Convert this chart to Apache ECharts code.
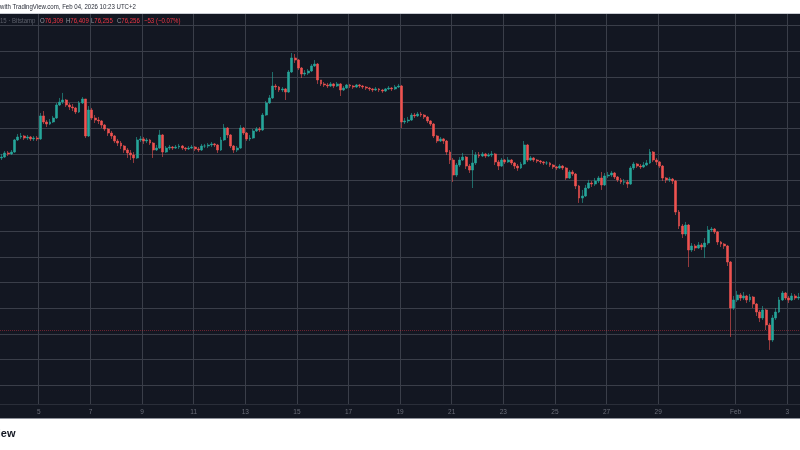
<!DOCTYPE html>
<html><head><meta charset="utf-8">
<script src="https://cdn.jsdelivr.net/npm/echarts@6/dist/echarts.min.js"></script>
<style>
html,body{margin:0;padding:0;background:#fff;width:800px;height:450px;overflow:hidden;}
#panel{position:absolute;left:0;top:13px;width:800px;height:406px;background:#131722;border-top:1px solid #c9ccd3;border-bottom:1px solid #8f929b;box-sizing:border-box;}
#chart{position:absolute;left:0;top:0;width:800px;height:450px;}
</style></head><body>
<div id="panel"></div><div id="chart"></div>
<script>
// BTC/USD 3h candles, starting 2026-01-03 12:00
const firstOpen = 89700;
const close = [
89770,90090,90010,90160,91100,91330,91410,91250,
91330,91180,91250,91180,92970,92500,92340,92500,
92810,93820,94050,94210,93820,93670,93590,93280,
93980,94290,91410,93430,92810,92650,92580,92260,
91950,91640,91410,91020,90860,90630,90320,90090,
89930,89700,91100,91180,91020,91100,90860,90320,
90470,91490,90160,90470,90550,90470,90550,90630,
90470,90400,90470,90550,90400,90320,90630,90630,
90710,90790,90710,90320,91100,92030,91490,90630,
90320,90470,92030,91640,91180,91250,91800,91950,
91880,93040,93980,94370,95300,95220,94990,95070,
94830,96390,97480,97320,96700,96230,96310,96470,
96860,97010,95770,95460,95380,95300,95460,95300,
95460,94990,95140,95380,95300,95220,95380,95300,
95220,95140,95070,94990,95070,94990,94910,95070,
95140,95070,95220,95300,92500,92580,92650,93040,
92970,93120,93040,92890,92580,92340,91410,91020,
91180,91020,90160,89540,88370,89150,89540,89770,
89070,88760,89310,89930,89850,90010,89850,89930,
90010,89390,89070,89540,89390,89540,89310,89070,
88920,89230,90710,89540,89700,89540,89460,89390,
89310,89310,89150,89000,88920,89070,88920,88140,
88610,88450,87520,86580,86740,87360,87750,87670,
87910,88140,87600,88300,88370,88530,88220,87990,
87830,87830,87670,88920,89230,89070,89000,89150,
89310,90160,89540,89390,89070,88140,87990,88060,
87910,85490,84400,83780,84480,82540,82850,82690,
82930,82770,83080,84090,84170,83940,83160,83000,
82850,81600,78020,78650,79040,78800,78960,78650,
78880,78330,77710,77250,77870,76700,75530,77250,
77710,78650,79190,78800,78650,78960,78800,78880
];
const high = [
90010,90240,90240,90320,91180,91560,91640,91490,
91490,91410,91410,91410,93200,93350,92650,92730,
92970,93980,94370,94760,94290,93980,93900,93670,
94130,94440,94290,93740,93590,93040,92890,92650,
92340,92030,91800,91490,91180,91020,90710,90470,
90320,90160,91330,91410,91330,91250,91180,90940,
90710,91880,91560,90630,90710,90630,90710,90790,
90710,90550,90630,90710,90630,90550,90790,90790,
90860,90940,90860,90790,91330,92340,92110,91560,
90710,90630,92260,92110,91720,91490,91950,92110,
92110,93200,94130,94600,96390,95460,95300,95220,
95140,96540,97870,97790,97400,96780,96540,96620,
97010,97320,97090,95770,95610,95530,95610,95530,
95610,95530,95300,95460,95460,95380,95460,95460,
95380,95300,95220,95140,95220,95140,95070,95140,
95300,95220,95380,95460,95380,92810,92890,93200,
93200,93280,93280,93120,92970,92650,92420,91490,
91330,91250,91100,90320,89700,89310,89770,90090,
89850,89230,90320,90160,90160,90160,90090,90090,
90240,90090,89540,89700,89620,89770,89620,89390,
89230,89390,91020,90790,89850,89770,89620,89540,
89460,89460,89390,89230,89070,89230,89150,89000,
88760,88760,88530,87600,87210,87600,87990,87910,
88140,88300,88610,88530,88610,88690,88610,88300,
88140,88060,87990,89070,89390,89310,89230,89390,
89540,90400,90240,89700,89460,89150,88220,88220,
88140,87990,85650,84560,84720,84560,83080,83000,
83160,83080,83470,84400,84330,84250,84020,83240,
83080,82930,81680,78960,79350,79190,79270,79040,
79110,78960,78410,77870,78180,77950,76860,77480,
78020,78880,79350,79270,78960,79190,79110,79190
];
const low = [
89540,89700,89850,89930,90090,91020,91180,91100,
91100,91020,91020,91020,91100,92340,92110,92260,
92420,92730,93740,93900,93670,93430,93350,93120,
93200,93900,91250,91330,92650,92420,92340,92030,
91800,91410,91180,90860,90630,90400,90090,89700,
89540,89310,89620,90940,90790,90860,90710,89700,
90240,90400,89770,90090,90320,90320,90400,90400,
90320,90240,90320,90400,90240,90160,90240,90470,
90470,90550,90550,90090,90240,91020,91250,90470,
90090,90160,90400,91490,91020,91020,91180,91720,
91720,91800,92970,93900,94290,94990,94830,94830,
94210,94760,96310,97090,96540,95920,96080,96160,
96390,96780,95460,95300,95220,95140,95220,95140,
95220,94520,94910,95070,95140,95070,95140,95140,
95070,94990,94910,94830,94910,94830,94760,94830,
94990,94910,94990,95140,92030,92340,92420,92580,
92810,92890,92890,92730,92420,92190,91250,90860,
90940,90790,89930,89230,87830,88220,89000,89460,
88840,88530,87360,89150,89700,89770,89700,89770,
89770,89150,88760,89000,89230,89310,89150,88840,
88690,88840,89150,89390,89460,89390,89310,89230,
89150,89150,89000,88840,88760,88840,88760,87990,
88060,88300,87280,86200,86200,86660,87280,87440,
87520,87750,87210,87520,88140,88220,88060,87830,
87670,87600,87360,87600,88760,88920,88840,88920,
89070,89230,89390,89150,88920,87910,87750,87830,
87670,85260,84170,83470,83630,81210,82380,82460,
82620,82540,81910,82930,83940,83780,82930,82770,
82620,81290,75770,77870,78490,78570,78650,78410,
78490,78020,77400,76930,77090,76310,74760,75380,
77090,77630,78570,78650,78410,78570,78650,78650
];
const lastPrice = 76256;
const tickDates = ['2026-01-05','2026-01-07','2026-01-09','2026-01-11','2026-01-13','2026-01-15','2026-01-17','2026-01-19','2026-01-21','2026-01-23','2026-01-25','2026-01-27','2026-01-29','2026-02-01','2026-02-03'];
const tickLabels = ['5','7','9','11','13','15','17','19','21','23','25','27','29','Feb','3'];
const header = {symbol:'15 · Bitstamp', O:'76,309', H:'76,409', L:'76,255', C:'76,256', change:'−53 (−0.07%)'};

const startUTC = Date.UTC(2026,0,3,12);
const cats = close.map((_, i) => new Date(startUTC + i*3*3600*1000).toISOString().slice(0,13).replace('T',' ') + ':00');
const candles = close.map((c, i) => [i ? close[i-1] : firstOpen, c, low[i], high[i]]);
const isTick = v => v.slice(11,13) === '00' && tickDates.indexOf(v.slice(0,10)) >= 0;
const labelFor = v => { const k = tickDates.indexOf(v.slice(0,10)); return k >= 0 ? tickLabels[k] : ''; };

const GRID = '#3a3e49', UP = '#26a69a', DOWN = '#ef5350', FONT = 'Liberation Sans';
const chart = echarts.init(document.getElementById('chart'), null, {renderer:'canvas'});

function hdr(x, letter, value) {
  return {type:'text', x:x, y:21.5, scaleX:0.86, style:{text:'{a|'+letter+'}{v|'+value+'}', verticalAlign:'middle',
    rich:{a:{fill:'#9598a1', fontSize:7, fontFamily:FONT}, v:{fill:'#f23645', fontSize:7, fontFamily:FONT}}}};
}

chart.setOption({
  animation:false,
  grid:[{left:0,right:0,top:14,height:390},{left:0,right:0,top:25.6,height:359.8}],
  xAxis:[
    {type:'category', gridIndex:0, data:cats, boundaryGap:true,
     axisLine:{show:true, lineStyle:{color:'#2a2e39', width:1}},
     axisTick:{show:false},
     axisLabel:{interval:(i,v)=>isTick(v), formatter:v=>labelFor(v), color:'#6a6d78', fontSize:6.5, fontFamily:FONT, margin:5, padding:[0,3,0,0], hideOverlap:false},
     splitLine:{show:true, interval:(i,v)=>isTick(v), lineStyle:{color:GRID, width:1}}},
    {type:'category', gridIndex:1, data:cats, boundaryGap:true, show:false}
  ],
  yAxis:[
    {type:'value', gridIndex:0, show:false, min:0, max:1},
    {type:'value', gridIndex:1, min:72000, max:100000, interval:2000,
     axisLabel:{show:false}, axisLine:{show:false}, axisTick:{show:false},
     splitLine:{show:true, lineStyle:{color:GRID, width:1}}}
  ],
  series:[{
    type:'candlestick', xAxisIndex:1, yAxisIndex:1, data:candles, barWidth:2.4,
    itemStyle:{color:UP, color0:DOWN, borderColor:UP, borderColor0:DOWN, borderWidth:0.6},
    markLine:{silent:true, symbol:'none', label:{show:false},
      lineStyle:{color:'#f23645', type:'dotted', width:1, opacity:0.4},
      data:[{yAxis:lastPrice}]}
  }],
  graphic:[
    {type:'text', x:0, y:7, scaleX:0.81, style:{text:'with TradingView.com, Feb 04, 2026 10:23 UTC+2', fill:'#2a2e39', fontSize:7.5, fontFamily:FONT, verticalAlign:'middle'}},
    {type:'text', x:0, y:21.5, scaleX:0.86, style:{text:header.symbol, fill:'#5d606b', fontSize:7, fontFamily:FONT, verticalAlign:'middle'}},
    hdr(40,'O',header.O), hdr(66,'H',header.H), hdr(91,'L',header.L), hdr(117,'C',header.C),
    {type:'text', x:144, y:21.5, scaleX:0.86, style:{text:header.change, fill:'#f23645', fontSize:7, fontFamily:FONT, verticalAlign:'middle'}},
    {type:'text', x:15.5, y:434, style:{text:'TradingView', fill:'#131722', fontSize:11, fontWeight:'bold', fontFamily:FONT, align:'right', verticalAlign:'middle'}}
  ]
});
</script></body></html>
